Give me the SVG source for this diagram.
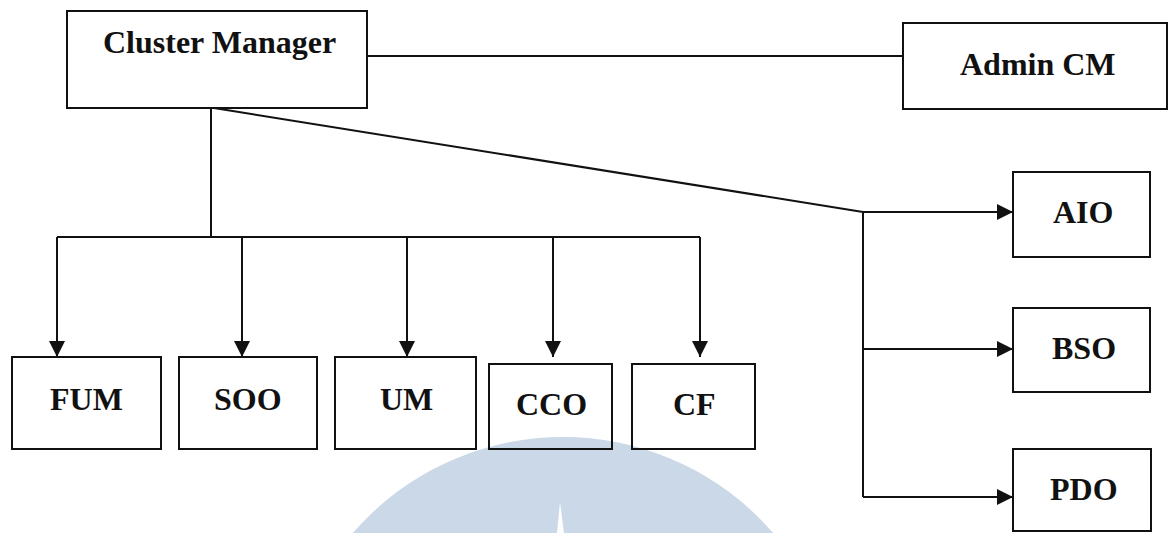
<svg xmlns="http://www.w3.org/2000/svg" width="1168" height="533" viewBox="0 0 1168 533">
  <style>
    .box { fill: none; stroke: #111; stroke-width: 2; }
    .lbl { font-family: "Liberation Serif", "Times New Roman", serif; font-weight: bold; font-size: 32px; fill: #111; }
    .conn { fill: none; stroke: #111; stroke-width: 2; }
  </style>
  <defs>
    <marker id="arr" markerUnits="userSpaceOnUse" markerWidth="16" markerHeight="16" refX="16" refY="8" orient="auto">
      <path d="M0,0 L16,8 L0,16 z" fill="#111"/>
    </marker>
  </defs>
  <rect width="1168" height="533" fill="#ffffff"/>
  <g id="watermark">
    <circle cx="563" cy="715" r="278" fill="#cad8e8"/>
    <polygon points="560,502 557,533 564,533" fill="#ffffff"/>
  </g>
  <g id="connectors">
    <line class="conn" x1="367" y1="56" x2="903" y2="56"/>
    <line class="conn" x1="211" y1="108" x2="211" y2="237"/>
    <line class="conn" x1="57" y1="237" x2="700" y2="237"/>
    <line class="conn" x1="57" y1="237" x2="57" y2="357" marker-end="url(#arr)"/>
    <line class="conn" x1="242" y1="237" x2="242" y2="357" marker-end="url(#arr)"/>
    <line class="conn" x1="407" y1="237" x2="407" y2="357" marker-end="url(#arr)"/>
    <line class="conn" x1="553" y1="237" x2="553" y2="357" marker-end="url(#arr)"/>
    <line class="conn" x1="700" y1="237" x2="700" y2="357" marker-end="url(#arr)"/>
    <line class="conn" x1="214" y1="108" x2="863" y2="212"/>
    <line class="conn" x1="863" y1="212" x2="863" y2="497"/>
    <line class="conn" x1="863" y1="212" x2="1013" y2="212" marker-end="url(#arr)"/>
    <line class="conn" x1="863" y1="349" x2="1013" y2="349" marker-end="url(#arr)"/>
    <line class="conn" x1="863" y1="497" x2="1013" y2="497" marker-end="url(#arr)"/>
  </g>
  <g id="cluster-manager">
    <rect class="box" x="67" y="11" width="300" height="97"/>
    <text class="lbl" x="103" y="53">Cluster Manager</text>
  </g>
  <g id="admin-cm">
    <rect class="box" x="903" y="23" width="264" height="86"/>
    <text class="lbl" x="960" y="75">Admin CM</text>
  </g>
  <g id="aio">
    <rect class="box" x="1013" y="172" width="137" height="85"/>
    <text class="lbl" x="1053" y="223">AIO</text>
  </g>
  <g id="bso">
    <rect class="box" x="1013" y="308" width="137" height="84"/>
    <text class="lbl" x="1052" y="359">BSO</text>
  </g>
  <g id="pdo">
    <rect class="box" x="1013" y="449" width="138" height="82"/>
    <text class="lbl" x="1050" y="500">PDO</text>
  </g>
  <g id="fum">
    <rect class="box" x="12" y="357" width="149" height="92"/>
    <text class="lbl" x="50" y="410">FUM</text>
  </g>
  <g id="soo">
    <rect class="box" x="179" y="357" width="138" height="92"/>
    <text class="lbl" x="214" y="410">SOO</text>
  </g>
  <g id="um">
    <rect class="box" x="335" y="357" width="141" height="92"/>
    <text class="lbl" x="380" y="410">UM</text>
  </g>
  <g id="cco">
    <rect class="box" x="489" y="364" width="123" height="85"/>
    <text class="lbl" x="516" y="415">CCO</text>
  </g>
  <g id="cf">
    <rect class="box" x="632" y="364" width="123" height="85"/>
    <text class="lbl" x="673" y="415">CF</text>
  </g>
</svg>
